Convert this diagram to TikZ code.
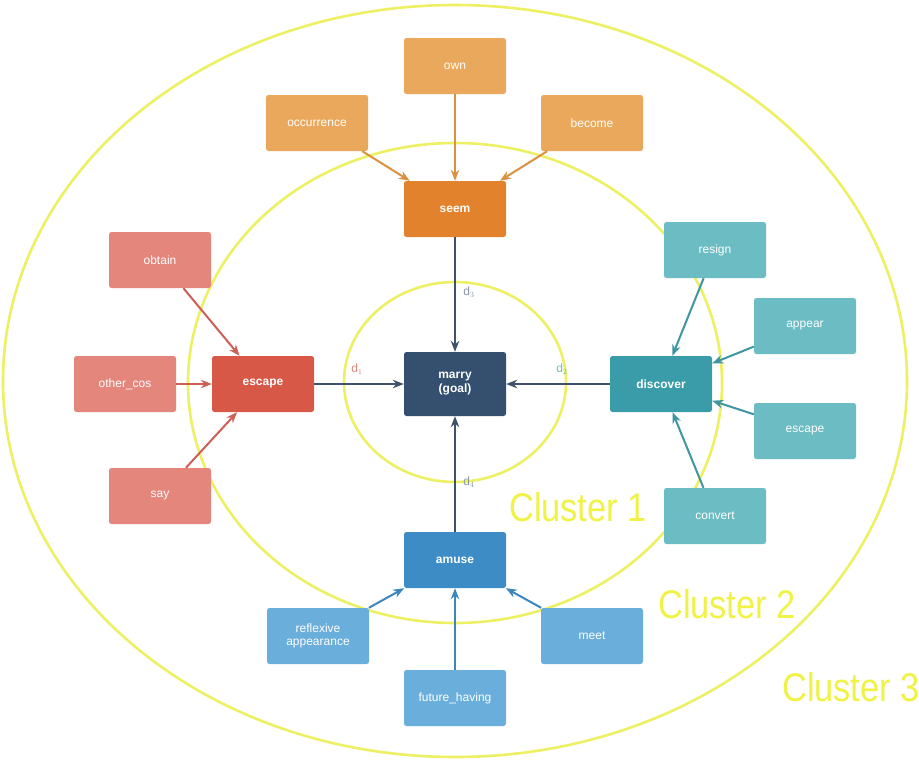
\documentclass[tikz,border=0pt]{standalone}
\usepackage{fontspec}
\setmainfont{Liberation Sans}
\usetikzlibrary{arrows.meta}
\definecolor{cyel}{RGB}{238,240,100}
\definecolor{ctxt}{RGB}{240,242,70}
\definecolor{cmarry}{RGB}{52,80,110}
\definecolor{cseem}{RGB}{226,130,45}
\definecolor{corg}{RGB}{233,168,92}
\definecolor{corgA}{RGB}{220,145,65}
\definecolor{cesc}{RGB}{216,88,72}
\definecolor{csal}{RGB}{228,134,124}
\definecolor{csalA}{RGB}{205,95,85}
\definecolor{cdisc}{RGB}{58,156,168}
\definecolor{cteal}{RGB}{108,188,196}
\definecolor{ctealA}{RGB}{62,150,162}
\definecolor{camuse}{RGB}{61,140,198}
\definecolor{cblue}{RGB}{106,174,219}
\definecolor{cblueA}{RGB}{60,134,190}
\definecolor{cmain}{RGB}{62,82,108}
\tikzset{
  box/.style={rectangle, rounded corners=2.5pt, minimum width=102pt, minimum height=56pt,
    text=white, font=\fontsize{12}{13}\selectfont, align=center, inner sep=1pt},
  hub/.style={box, font=\fontsize{12}{14}\selectfont\bfseries},
  arr/.style={-{Stealth[length=11pt,width=8.5pt]}, line width=2pt},
  clus/.style={draw=cyel, line width=2.6pt},
  clab/.style={text=ctxt, font=\fontsize{40}{40}\selectfont, xscale=0.86, transform shape, inner sep=0pt},
  dlab/.style={font=\fontsize{12}{13}\selectfont, inner sep=0pt}
}
\begin{document}
\begin{tikzpicture}[x=1pt,y=-1pt]
\useasboundingbox[fill=white] (0,0) rectangle (919,761);
% clusters
\draw[clus] (455,382) ellipse [x radius=111, y radius=100];
\draw[clus] (455,383) ellipse [x radius=267, y radius=240];
\draw[clus] (455,381) ellipse [x radius=452, y radius=376];
\node[clab] (c1) at (578,507) {Cluster 1};
\node[clab] (c2) at (727,604) {Cluster 2};
\node[clab, anchor=west] (c3) at (782,687) {Cluster 3};
% nodes
\node[hub, fill=cmarry, minimum height=64pt] (marry) at (455,384) {marry\\(goal)};
\node[hub, fill=cseem] (seem) at (455,209) {seem};
\node[box, fill=corg] (own) at (455,66) {own};
\node[box, fill=corg] (occ) at (317,123) {occurrence};
\node[box, fill=corg] (become) at (592,123) {become};
\node[hub, fill=cesc] (escL) at (263,384) {escape};
\node[box, fill=csal] (obtain) at (160,260) {obtain};
\node[box, fill=csal] (other) at (125,384) {other\_cos};
\node[box, fill=csal] (say) at (160,496) {say};
\node[hub, fill=cdisc] (disc) at (661,384) {discover};
\node[box, fill=cteal] (resign) at (715,250) {resign};
\node[box, fill=cteal] (appear) at (805,326) {appear};
\node[box, fill=cteal] (escR) at (805,431) {escape};
\node[box, fill=cteal] (convert) at (715,516) {convert};
\node[hub, fill=camuse] (amuse) at (455,560) {amuse};
\node[box, fill=cblue] (refl) at (318,636) {reflexive\\appearance};
\node[box, fill=cblue] (meet) at (592,636) {meet};
\node[box, fill=cblue] (fut) at (455,698) {future\_having};
% main arrows
\draw[arr, cmain] (seem) -- (marry);
\draw[arr, cmain] (escL) -- (marry);
\draw[arr, cmain] (disc) -- (marry);
\draw[arr, cmain] (amuse) -- (marry);
% leaf arrows
\draw[arr, corgA] (own) -- (seem);
\draw[arr, corgA] (occ) -- (seem);
\draw[arr, corgA] (become) -- (seem);
\draw[arr, csalA] (obtain) -- (escL);
\draw[arr, csalA] (other) -- (escL);
\draw[arr, csalA] (say) -- (escL);
\draw[arr, ctealA] (resign) -- (disc);
\draw[arr, ctealA] (appear) -- (disc);
\draw[arr, ctealA] (escR) -- (disc);
\draw[arr, ctealA] (convert) -- (disc);
\draw[arr, cblueA] (refl) -- (amuse);
\draw[arr, cblueA] (meet) -- (amuse);
\draw[arr, cblueA] (fut) -- (amuse);
% distance labels
\node[dlab, text=csal] (d1) at (357,369) {d$_1$};
\node[dlab, text=cteal] (d2) at (562,369) {d$_2$};
\node[dlab, text=cmain!60] (d3) at (469,292) {d$_3$};
\node[dlab, text=cmain!60] (d4) at (469,482) {d$_4$};
\end{tikzpicture}
\end{document}
